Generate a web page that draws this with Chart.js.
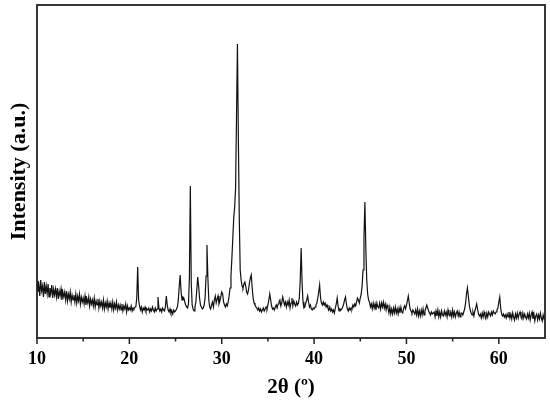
<!DOCTYPE html>
<html>
<head>
<meta charset="utf-8">
<script src="https://cdn.jsdelivr.net/npm/chart.js@4.4.1/dist/chart.umd.min.js"></script>
<style>
  html, body { margin: 0; padding: 0; background: #fff; }
  #wrap { width: 550px; height: 401px; }
</style>
</head>
<body>
<div id="wrap"><canvas id="xrd"></canvas></div>
<script>
// XRD pattern: 2theta from 10 to 65 deg, measured every 0.1 deg
const startAngle = 10;
const stepAngle = 0.1;
// intensity (a.u.), one row per degree (x.0 ... x.9)
const intensity = [
  57,46,53,42,58,47,52,41,56,44,   // 10
  52,44,54,41,50,45,53,40,49,43,   // 11
  49,41,50,39,47,42,49,38,46,41,   // 12
  46,38,47,37,44,39,46,36,43,38,   // 13
  43,36,44,35,42,37,44,34,41,36,   // 14
  40,34,42,33,39,35,41,32,39,34,   // 15
  38,32,40,31,37,33,39,30,37,32,   // 16
  36,30,38,29,35,31,37,29,35,30,   // 17
  35,29,36,28,34,30,36,28,33,29,   // 18
  33,28,34,27,32,29,34,26,32,28,   // 19
  30,28,32,27,30,29,31,31,40,71,   // 20
  38,32,28,31,26,30,28,31,27,29,   // 21
  28,30,26,29,27,31,28,26,30,27,   // 22
  29,41,30,27,29,26,30,28,27,31,   // 23
  42,33,28,26,29,25,27,24,28,26,   // 24
  27,29,31,38,52,63,46,38,41,40,   // 25
  36,33,31,30,34,60,152,55,33,29,  // 26
  27,31,36,48,61,52,40,33,31,29,   // 27
  30,33,40,62,93,60,38,31,29,33,   // 28
  36,31,38,42,35,39,42,34,37,41,   // 29
  46,44,36,33,31,34,32,36,42,50,   // 30
  62,80,100,120,131,150,220,294,200,120, // 31
  68,58,52,50,54,56,52,46,44,48,   // 32
  55,60,63,50,40,35,33,31,30,28,   // 33
  30,27,29,26,28,30,27,29,31,29,   // 34
  33,38,44,38,32,29,30,28,31,33,   // 35
  30,34,36,38,32,35,41,37,33,36,   // 36
  31,36,33,38,30,35,40,32,37,34,   // 37
  32,36,33,35,40,58,90,55,36,30,   // 38
  31,35,38,42,36,31,33,29,28,30,   // 39
  29,31,33,35,40,46,53,40,35,33,   // 40
  36,33,35,31,33,30,28,31,27,29,   // 41
  26,28,25,30,34,40,32,27,29,28,   // 42
  29,31,34,38,41,34,29,27,30,28,   // 43
  30,29,33,31,34,32,36,40,38,35,   // 44
  40,44,52,68,100,136,90,58,44,38, // 45
  36,31,34,29,35,30,34,28,35,31,   // 46
  30,35,29,35,31,36,30,34,28,33,   // 47
  30,25,31,24,29,24,30,25,31,25,   // 48
  29,24,30,25,31,26,25,30,32,29,   // 49
  33,37,42,35,29,27,25,28,26,24,   // 50
  28,23,29,22,27,22,28,23,29,23,   // 51
  27,30,33,30,27,25,23,26,24,25,   // 52
  26,21,27,22,28,21,26,21,27,23,   // 53
  22,27,23,26,21,28,23,22,26,21,   // 54
  28,22,26,21,25,27,22,26,21,25,   // 55
  25,23,26,29,35,44,50,42,33,28,   // 56
  25,23,26,22,27,30,34,29,24,22,   // 57
  24,20,25,21,26,22,20,25,21,26,   // 58
  24,22,26,23,27,25,24,26,28,30,   // 59
  36,41,30,24,22,24,21,23,20,24,   // 60
  21,26,20,24,19,25,21,18,24,20,   // 61
  25,20,24,26,21,19,25,20,24,21,   // 62
  19,24,20,25,18,23,26,19,24,17,   // 63
  22,24,18,23,19,25,20,17,23,19,   // 64
  21                               // 65
];
const xMajorTicks = [10, 20, 30, 40, 50, 60];
const xMinorTicks = [15, 25, 35, 45, 55];

const points = intensity.map((v, i) => ({ x: +(startAngle + i * stepAngle).toFixed(1), y: v }));

const serif = 'Liberation Serif, Times New Roman, serif';

// frame round the plot and the tick marks on the 2theta axis
const framePlugin = {
  id: 'frame',
  afterDraw(chart) {
    const ctx = chart.ctx;
    const a = chart.chartArea;
    const xs = chart.scales.x;
    ctx.save();
    ctx.strokeStyle = '#222';
    ctx.lineWidth = 1.8;
    ctx.strokeRect(a.left, a.top, a.right - a.left, a.bottom - a.top);
    ctx.lineWidth = 1.5;
    ctx.beginPath();
    xMajorTicks.forEach(v => {
      const px = xs.getPixelForValue(v);
      ctx.moveTo(px, a.bottom);
      ctx.lineTo(px, a.bottom + 6);
    });
    xMinorTicks.forEach(v => {
      const px = xs.getPixelForValue(v);
      ctx.moveTo(px, a.bottom);
      ctx.lineTo(px, a.bottom + 3.5);
    });
    ctx.stroke();
    ctx.restore();
  }
};

new Chart(document.getElementById('xrd'), {
  type: 'line',
  data: {
    datasets: [{
      data: points,
      borderColor: '#111',
      borderWidth: 1.2,
      pointRadius: 0,
      tension: 0,
      fill: false
    }]
  },
  options: {
    responsive: true,
    maintainAspectRatio: false,
    animation: false,
    layout: { padding: { top: 5, right: 5, left: 0, bottom: 0 } },
    plugins: { legend: { display: false }, tooltip: { enabled: false } },
    scales: {
      x: {
        type: 'linear',
        min: 10,
        max: 65,
        grid: { display: false },
        border: { display: false },
        afterBuildTicks: s => { s.ticks = xMajorTicks.map(v => ({ value: v })); },
        afterFit: s => { s.height = 63; },
        ticks: {
          color: '#000',
          padding: 3,
          maxRotation: 0,
          autoSkip: false,
          font: { family: serif, size: 18, weight: 'bold' }
        },
        title: {
          display: true,
          text: '2θ (º)',
          color: '#000',
          padding: { top: 0, bottom: 1 },
          font: { family: serif, size: 21, weight: 'bold' }
        }
      },
      y: {
        min: 0,
        max: 333,
        grid: { display: false },
        border: { display: false },
        ticks: { display: false },
        afterFit: s => { s.width = 37; },
        title: {
          display: true,
          text: 'Intensity (a.u.)',
          color: '#000',
          padding: { top: 6, bottom: 0 },
          font: { family: serif, size: 22, weight: 'bold' }
        }
      }
    }
  },
  plugins: [framePlugin]
});
</script>
</body>
</html>
